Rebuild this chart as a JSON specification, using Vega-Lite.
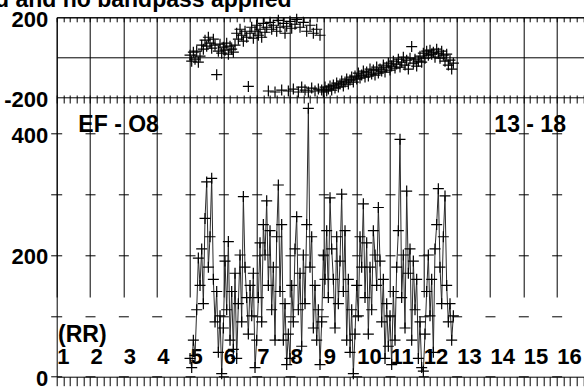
{
  "$schema": "https://vega.github.io/schema/vega-lite/v6.json",
  "width": 527.3,
  "height": 359.4,
  "autosize": {"type": "none"},
  "padding": {"left": 56.7, "top": 17.3, "right": 0, "bottom": 11.3},
  "background": "white",
  "config": {
    "view": {"stroke": null},
    "font": "Liberation Sans",
    "axis": {"title": null, "labelColor": "black", "labelFont": "Liberation Sans", "labelFontWeight": "bold", "labelFontSize": 22, "labelOverlap": false, "labelFlush": false, "domainColor": "black", "tickColor": "black", "gridColor": "black", "gridOpacity": 1, "gridWidth": 1}
  },
  "datasets": {
    "s": [
      {"t":5.00,"a":30,"p":10},{"t":5.05,"a":15,"p":-20},{"t":5.10,"a":60,"p":25},{"t":5.15,"a":35,"p":-10},{"t":5.20,"a":110,"p":30},
      {"t":5.25,"a":195,"p":-25},{"t":5.30,"a":150,"p":5},{"t":5.35,"a":210,"p":60},{"t":5.40,"a":120,"p":40},{"t":5.45,"a":260,"p":85},
      {"t":5.50,"a":320,"p":55},{"t":5.55,"a":180,"p":100},{"t":5.60,"a":230,"p":70},{"t":5.65,"a":326,"p":45},{"t":5.70,"a":160,"p":90},
      {"t":5.75,"a":90,"p":60},{"t":5.80,"a":140,"p":-88},{"t":5.85,"a":40,"p":30},{"t":5.90,"a":100,"p":65},{"t":5.95,"a":5,"p":20},
      {"t":6.00,"a":80,"p":50},{"t":6.05,"a":190,"p":35},{"t":6.10,"a":110,"p":70},{"t":6.15,"a":222,"p":15},{"t":6.20,"a":60,"p":55},
      {"t":6.25,"a":140,"p":40},{"t":6.30,"a":45,"p":25},{"t":6.35,"a":170,"p":60},{"t":6.40,"a":30,"p":120},{"t":6.45,"a":120,"p":90},
      {"t":6.50,"a":200,"p":140},{"t":6.55,"a":90,"p":110},{"t":6.60,"a":296,"p":80},{"t":6.65,"a":180,"p":130},{"t":6.70,"a":130,"p":100},
      {"t":6.75,"a":70,"p":-147},{"t":6.80,"a":150,"p":120},{"t":6.85,"a":100,"p":150},{"t":6.90,"a":170,"p":95},{"t":6.95,"a":15,"p":130},
      {"t":7.00,"a":60,"p":160},{"t":7.05,"a":130,"p":110},{"t":7.10,"a":220,"p":140},{"t":7.15,"a":90,"p":100},{"t":7.20,"a":250,"p":170},
      {"t":7.25,"a":200,"p":125},{"t":7.30,"a":289,"p":150},{"t":7.35,"a":150,"p":-170},{"t":7.40,"a":240,"p":175},{"t":7.45,"a":110,"p":140},
      {"t":7.50,"a":180,"p":160},{"t":7.55,"a":60,"p":-175},{"t":7.60,"a":230,"p":130},{"t":7.65,"a":315,"p":185},{"t":7.70,"a":140,"p":150},
      {"t":7.75,"a":250,"p":-165},{"t":7.80,"a":60,"p":170},{"t":7.85,"a":120,"p":120},{"t":7.90,"a":20,"p":155},{"t":7.95,"a":70,"p":-170},
      {"t":8.00,"a":30,"p":180},{"t":8.05,"a":150,"p":145},{"t":8.10,"a":90,"p":-160},{"t":8.15,"a":210,"p":165},{"t":8.20,"a":263,"p":190},
      {"t":8.25,"a":110,"p":-175},{"t":8.30,"a":170,"p":150},{"t":8.35,"a":50,"p":-150},{"t":8.40,"a":200,"p":175},{"t":8.45,"a":120,"p":-165},
      {"t":8.50,"a":250,"p":130},{"t":8.55,"a":441,"p":-175},{"t":8.60,"a":180,"p":160},{"t":8.65,"a":230,"p":-155},{"t":8.70,"a":80,"p":120},
      {"t":8.75,"a":150,"p":-170},{"t":8.80,"a":60,"p":140},{"t":8.85,"a":110,"p":-160},{"t":8.90,"a":20,"p":110},{"t":8.95,"a":90,"p":-165},
      {"t":9.00,"a":200,"p":-175},{"t":9.05,"a":160,"p":-150},{"t":9.10,"a":240,"p":-170},{"t":9.15,"a":130,"p":-160},{"t":9.20,"a":294,"p":-145},
      {"t":9.25,"a":210,"p":-165},{"t":9.30,"a":160,"p":-140},{"t":9.35,"a":80,"p":-155},{"t":9.40,"a":230,"p":-130},{"t":9.45,"a":120,"p":-150},
      {"t":9.50,"a":190,"p":-135},{"t":9.55,"a":300,"p":-120},{"t":9.60,"a":140,"p":-145},{"t":9.65,"a":240,"p":-125},{"t":9.70,"a":60,"p":-110},
      {"t":9.75,"a":160,"p":-135},{"t":9.80,"a":40,"p":-115},{"t":9.85,"a":110,"p":-100},{"t":9.90,"a":5,"p":-125},{"t":9.95,"a":70,"p":-95},
      {"t":10.00,"a":150,"p":-110},{"t":10.05,"a":100,"p":-80},{"t":10.10,"a":230,"p":-105},{"t":10.15,"a":180,"p":-90},{"t":10.20,"a":284,"p":-70},
      {"t":10.25,"a":130,"p":-100},{"t":10.30,"a":220,"p":-75},{"t":10.35,"a":70,"p":-95},{"t":10.40,"a":180,"p":-60},{"t":10.45,"a":110,"p":-85},
      {"t":10.50,"a":240,"p":-65},{"t":10.55,"a":200,"p":-90},{"t":10.60,"a":150,"p":-50},{"t":10.65,"a":278,"p":-80},{"t":10.70,"a":190,"p":-60},
      {"t":10.75,"a":90,"p":-70},{"t":10.80,"a":160,"p":-40},{"t":10.85,"a":30,"p":-75},{"t":10.90,"a":120,"p":-50},{"t":10.95,"a":50,"p":-30},
      {"t":11.00,"a":100,"p":-65},{"t":11.05,"a":20,"p":-45},{"t":11.10,"a":140,"p":-20},{"t":11.15,"a":60,"p":-55},{"t":11.20,"a":180,"p":-35},
      {"t":11.25,"a":240,"p":-10},{"t":11.30,"a":390,"p":-50},{"t":11.35,"a":130,"p":-25},{"t":11.40,"a":200,"p":0},{"t":11.45,"a":80,"p":-40},
      {"t":11.50,"a":305,"p":-15},{"t":11.55,"a":170,"p":-60},{"t":11.60,"a":210,"p":-5},{"t":11.65,"a":60,"p":53},{"t":11.70,"a":190,"p":-30},
      {"t":11.75,"a":110,"p":-10},{"t":11.80,"a":160,"p":-45},{"t":11.85,"a":30,"p":-20},{"t":11.90,"a":90,"p":5},{"t":11.95,"a":15,"p":-25},
      {"t":12.00,"a":9,"p":20},{"t":12.05,"a":70,"p":-5},{"t":12.10,"a":140,"p":30},{"t":12.15,"a":200,"p":10},{"t":12.20,"a":100,"p":35},
      {"t":12.25,"a":160,"p":15},{"t":12.30,"a":40,"p":25},{"t":12.35,"a":210,"p":0},{"t":12.40,"a":250,"p":40},{"t":12.45,"a":309,"p":20},
      {"t":12.50,"a":180,"p":-5},{"t":12.55,"a":120,"p":30},{"t":12.60,"a":230,"p":10},{"t":12.65,"a":297,"p":-20},{"t":12.70,"a":150,"p":15},
      {"t":12.75,"a":90,"p":-40},{"t":12.80,"a":120,"p":-15},{"t":12.85,"a":60,"p":-60},{"t":12.90,"a":100,"p":-30}
    ],
    "notes": [
      {"t": -0.851, "a": 606.7, "label": "d and no bandpass applied"},
      {"t": 1.04, "a": 57.5, "label": "(RR)"},
      {"t": 1.65, "a": 402.6, "label": "EF - O8"},
      {"t": 14.13, "a": 402.6, "label": "13 - 18"}
    ]
  },
  "layer": [
    {
      "data": {"name": "s"},
      "mark": {"type": "line", "color": "#2a2a2a", "strokeWidth": 1},
      "encoding": {
        "x": {"field": "t", "type": "quantitative",
          "scale": {"domain": [1, 16.82], "nice": false, "zero": false},
          "axis": {"orient": "bottom", "values": [1,2,3,4,5,6,7,8,9,10,11,12,13,14,15,16],
            "labels": true, "ticks": false, "tickSize": 0, "domain": false, "grid": true,
            "labelAlign": "left", "labelBaseline": "alphabetic", "labelPadding": -13.4, "labelDx": 1, "labelFontSize": 22}},
        "y": {"field": "a", "type": "quantitative",
          "scale": {"domain": [0, 459.6], "range": [359.4, 79.7], "nice": false, "zero": false},
          "axis": {"orient": "left", "values": [0, 100, 200, 300, 400],
            "labelExpr": "datum.value == 100 || datum.value == 300 ? '' : datum.label",
            "ticks": true, "tickSize": 6, "labelPadding": 3, "labelOffset": 2, "labelBaseline": "middle",
            "domain": true, "grid": true, "gridDash": [10, 23.33], "gridDashOffset": 5}}
      }
    },
    {
      "data": {"name": "s"},
      "mark": {"type": "point", "shape": "M-1,0H1M0,-1V1", "size": 121, "filled": false, "color": "black", "strokeWidth": 1.2, "opacity": 1},
      "encoding": {
        "x": {"field": "t", "type": "quantitative",
          "scale": {"domain": [1, 16.82], "nice": false, "zero": false},
          "axis": {"orient": "top", "values": [1,1.2,1.4,1.6,1.8,2,2.2,2.4,2.6,2.8,3,3.2,3.4,3.6,3.8,4,4.2,4.4,4.6,4.8,5,5.2,5.4,5.6,5.8,6,6.2,6.4,6.6,6.8,7,7.2,7.4,7.6,7.8,8,8.2,8.4,8.6,8.8,9,9.2,9.4,9.6,9.8,10,10.2,10.4,10.6,10.8,11,11.2,11.4,11.6,11.8,12,12.2,12.4,12.6,12.8,13,13.2,13.4,13.6,13.8,14,14.2,14.4,14.6,14.8,15,15.2,15.4,15.6,15.8,16,16.2,16.4,16.6,16.8],
            "labels": false, "ticks": true, "tickSize": -4.5, "tickWidth": 1, "domain": true, "grid": false}},
        "y": {"field": "a", "type": "quantitative",
          "scale": {"domain": [0, 459.6], "range": [359.4, 79.7], "nice": false, "zero": false},
          "axis": null}
      }
    },
    {
      "data": {"name": "s"},
      "mark": {"type": "point", "shape": "M-1,0H1M0,-1V1", "size": 121, "filled": false, "color": "black", "strokeWidth": 1.2, "opacity": 1},
      "encoding": {
        "x": {"field": "t", "type": "quantitative",
          "scale": {"domain": [1, 16.82], "nice": false, "zero": false},
          "axis": {"orient": "bottom", "values": [1,1.2,1.4,1.6,1.8,2,2.2,2.4,2.6,2.8,3,3.2,3.4,3.6,3.8,4,4.2,4.4,4.6,4.8,5,5.2,5.4,5.6,5.8,6,6.2,6.4,6.6,6.8,7,7.2,7.4,7.6,7.8,8,8.2,8.4,8.6,8.8,9,9.2,9.4,9.6,9.8,10,10.2,10.4,10.6,10.8,11,11.2,11.4,11.6,11.8,12,12.2,12.4,12.6,12.8,13,13.2,13.4,13.6,13.8,14,14.2,14.4,14.6,14.8,15,15.2,15.4,15.6,15.8,16,16.2,16.4,16.6,16.8],
            "labels": false, "grid": false, "ticks": true, "tickSize": 9, "tickWidth": 1, "domain": true, "domainWidth": 1}},
        "y": {"field": "p", "type": "quantitative",
          "scale": {"domain": [-200, 200], "range": [79.7, 0], "nice": false, "zero": false},
          "axis": {"orient": "left", "values": [-200, 0, 200],
            "labelExpr": "datum.value == 0 ? '' : '' + datum.value",
            "ticks": false, "labelPadding": 9, "labelOffset": 2, "labelBaseline": "middle",
            "domain": true, "grid": true}}
      }
    },
    {
      "data": {"name": "notes"},
      "mark": {"type": "text", "align": "left", "baseline": "alphabetic", "fontSize": 23, "fontWeight": "bold", "font": "Liberation Sans", "color": "black"},
      "encoding": {
        "x": {"field": "t", "type": "quantitative", "scale": {"domain": [1, 16.82], "nice": false, "zero": false},
          "axis": {"orient": "bottom", "offset": -273.7, "values": [1,1.2,1.4,1.6,1.8,2,2.2,2.4,2.6,2.8,3,3.2,3.4,3.6,3.8,4,4.2,4.4,4.6,4.8,5,5.2,5.4,5.6,5.8,6,6.2,6.4,6.6,6.8,7,7.2,7.4,7.6,7.8,8,8.2,8.4,8.6,8.8,9,9.2,9.4,9.6,9.8,10,10.2,10.4,10.6,10.8,11,11.2,11.4,11.6,11.8,12,12.2,12.4,12.6,12.8,13,13.2,13.4,13.6,13.8,14,14.2,14.4,14.6,14.8,15,15.2,15.4,15.6,15.8,16,16.2,16.4,16.6,16.8],
            "labels": false, "grid": false, "ticks": true, "tickSize": -8, "tickWidth": 1, "domain": false}},
        "y": {"field": "a", "type": "quantitative", "scale": {"domain": [0, 459.6], "range": [359.4, 79.7], "nice": false, "zero": false}, "axis": null},
        "text": {"field": "label"}
      }
    }
  ],
  "resolve": {"scale": {"x": "independent", "y": "independent"}, "axis": {"x": "independent", "y": "independent"}}
}
